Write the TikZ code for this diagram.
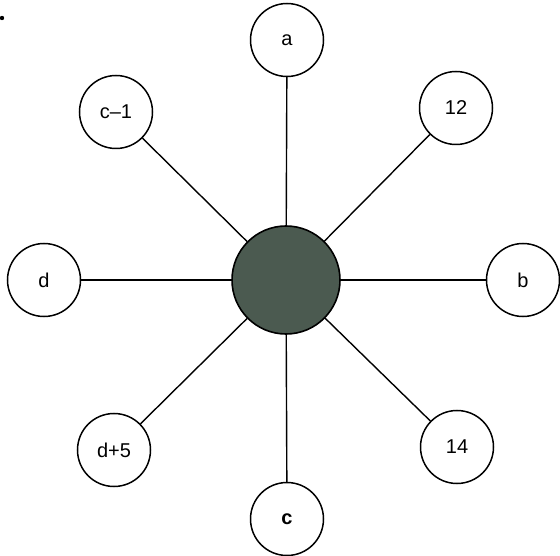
\documentclass[tikz,border=0pt]{standalone}
\usepackage{fontspec}
\setmainfont{Liberation Sans}
\definecolor{hubgreen}{HTML}{4B5A50}
\begin{document}
\begin{tikzpicture}[
x=1pt,y=-1pt,
leaf/.style={
draw,
circle,
line width=1.5pt,
minimum size=73pt,
inner sep=0pt,
font=\fontsize{20}{20}\selectfont
}
]

\useasboundingbox (0,0) rectangle (560,556);

\fill (2,18) circle (2.2pt);

\node[draw,circle,fill=hubgreen,line width=1.6pt,minimum size=108pt] (H)
at (286,280)
{};

\node[leaf] (A)
at (287,40)
{a};

\node[leaf] (T)
at (456,108)
{12};

\node[leaf] (B)
at (523,280)
{b};

\node[leaf] (F)
at (457,447)
{14};

\node[leaf] (C)
at (287,519)
{\textbf{c}};

\node[leaf] (D5)
at (114,450)
{d+5};

\node[leaf] (D)
at (44,280)
{d};

\node[leaf] (C1)
at (116,112)
{c--1};

\draw[line width=1.4pt] (H) -- (A);
\draw[line width=1.4pt] (H) -- (T);
\draw[line width=1.4pt] (H) -- (B);
\draw[line width=1.4pt] (H) -- (F);
\draw[line width=1.4pt] (H) -- (C);
\draw[line width=1.4pt] (H) -- (D5);
\draw[line width=1.4pt] (H) -- (D);
\draw[line width=1.4pt] (H) -- (C1);

\end{tikzpicture}
\end{document}
